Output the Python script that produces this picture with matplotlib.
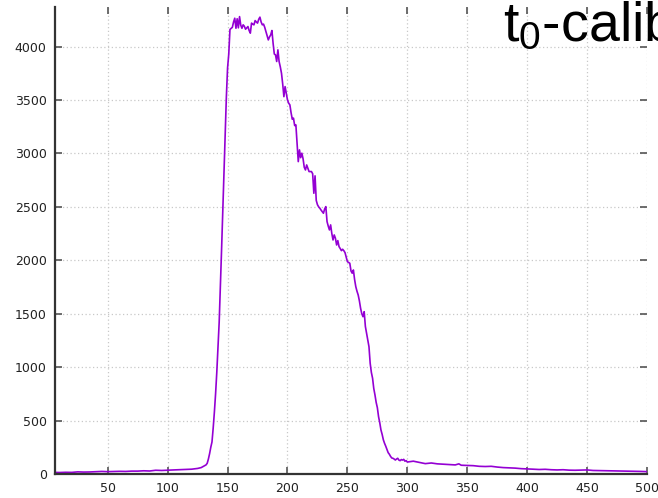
import numpy as np
import matplotlib.pyplot as plt

plt.rcParams['mathtext.fontset'] = 'custom'
plt.rcParams['mathtext.rm'] = 'Liberation Sans'
plt.rcParams['mathtext.it'] = 'Liberation Sans'

# --- data (channel, counts) ---
tailLeftX = [6, 10, 15, 20, 25, 30, 35, 40, 45, 50, 55, 60, 65, 70, 75, 80, 85, 90, 95,
             100, 105, 110, 115, 120, 125, 128, 130, 132, 133, 134, 135, 136, 137]
tailLeftY = [15, 14, 16, 15, 20, 18, 19, 22, 24, 22, 24, 25, 24, 27, 27, 30, 28, 35, 33,
             36, 38, 40, 42, 45, 52, 60, 72, 85, 100, 140, 190, 250, 300]

riseX = [138, 139, 140, 141, 142, 143, 144, 145, 146, 147, 148, 149, 150, 151]
riseY = [430, 580, 750, 950, 1180, 1420, 1750, 2100, 2450, 2820, 3180, 3530, 3800, 3930]

peakX = list(range(152, 301))
peakY = [4160, 4170, 4180, 4230, 4265, 4171, 4260, 4175, 4280, 4200,
         4171, 4203, 4190, 4162, 4175, 4187, 4150, 4125, 4219, 4210,
         4203, 4243, 4230, 4219, 4255, 4275, 4230, 4203, 4210, 4180,
         4141, 4100, 4062, 4090, 4109, 4150, 4030, 3930, 3922, 3860,
         3969, 3860, 3810, 3750, 3650, 3531, 3625, 3560, 3500, 3470,
         3454, 3380, 3320, 3330, 3260, 3267, 3100, 2923, 3033, 2960,
         3002, 2950, 2870, 2845, 2892, 2860, 2830, 2830, 2830, 2810,
         2627, 2790, 2560, 2520, 2500, 2487, 2470, 2455, 2440, 2480,
         2502, 2362, 2320, 2284, 2331, 2250, 2190, 2237, 2206, 2143,
         2184, 2128, 2110, 2090, 2103, 2090, 2072, 2030, 1987, 1980,
         1972, 1900, 1879, 1909, 1820, 1753, 1710, 1675, 1620, 1551,
         1500, 1472, 1519, 1380, 1317, 1250, 1191, 1036, 950, 896,
         800, 740, 670, 620, 536, 480, 412, 370, 320, 287,
         260, 230, 200, 185, 165, 150, 147, 140, 131, 140,
         147, 130, 125, 135, 130, 137, 120, 125, 112]

tailRightX = [305, 310, 315, 320, 325, 330, 335, 340, 343, 345, 350, 355, 360, 365, 370,
              375, 380, 385, 390, 395, 400, 405, 410, 415, 420, 425, 430, 435, 440, 445,
              450, 455, 460, 465, 470, 475, 480, 485, 490, 495, 500]
tailRightY = [120, 109, 97, 103, 95, 92, 88, 85, 95, 82, 80, 78, 72, 70, 72,
              65, 60, 58, 55, 50, 48, 45, 42, 44, 40, 38, 40, 36, 35, 36,
              38, 33, 32, 30, 30, 28, 27, 26, 25, 24, 22]

channel = np.array(tailLeftX + riseX + peakX + tailRightX)
counts = np.array(tailLeftY + riseY + peakY + tailRightY)

fig = plt.figure(figsize=(6.58, 4.98), dpi=100)
ax = fig.add_axes([55 / 658, 24 / 498, 592 / 658, 467 / 498])

ax.plot(channel, counts, color='#9400d3', lw=1.2)

ax.set_xlim(6, 500)
ax.set_ylim(0, 4370)
ax.set_xticks(np.arange(50, 501, 50))
ax.set_yticks(np.arange(0, 4001, 500))

ax.grid(True, color='#c8c8c8', linestyle=(0, (1, 2)), lw=0.9)
ax.set_axisbelow(True)

for side in ['top', 'right']:
    ax.spines[side].set_visible(False)
for side in ['left', 'bottom']:
    ax.spines[side].set_color('#333333')
    ax.spines[side].set_linewidth(1.6)

ax.tick_params(direction='in', length=5, width=1.2, color='#555555',
               top=True, right=True, labelsize=9, labelcolor='#222222', pad=6)

# big title text, partly cut at the right edge (as in the reference)
fig.text(503 / 658, 1 - 41 / 498, r'$\mathrm{t_0}$-calib', fontsize=40,
         family='Liberation Sans', ha='left', va='baseline', color='black')

fig.savefig('out.png', dpi=100)
